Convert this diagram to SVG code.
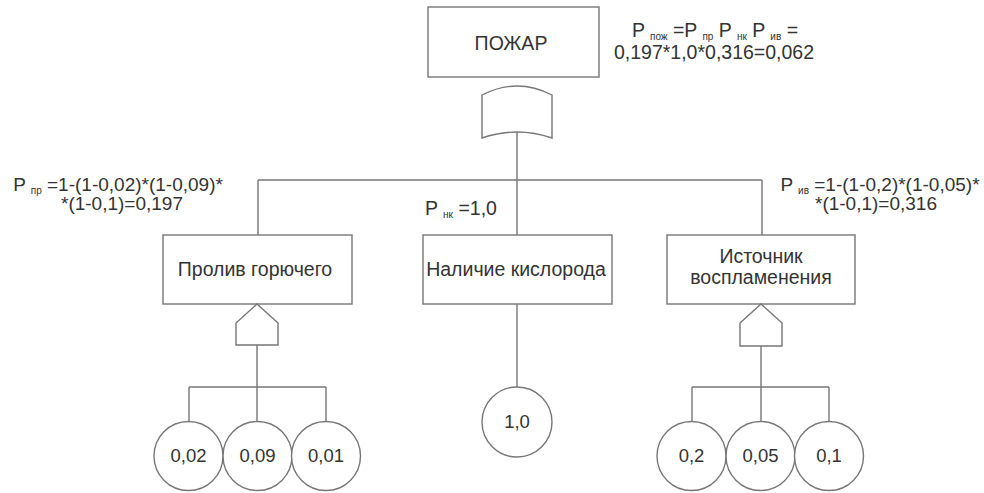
<svg xmlns="http://www.w3.org/2000/svg" width="984" height="493" viewBox="0 0 984 493">
<style>
text{font-family:"Liberation Sans",Arial,sans-serif;font-size:19.5px;fill:#333}
.m{text-anchor:middle}
.f{font-size:19px}
.s{font-size:10px}
.c{font-size:18.5px}
.sh{fill:#fff;stroke:#777;stroke-width:1.4}
.ln{fill:none;stroke:#777;stroke-width:1.4}
</style>
<rect width="984" height="493" fill="#fff"/>
<g id="connectors" class="ln">
<path d="M517,132V180M258,180H762M258,180V235M517,180V235M762,180V235"/>
<path d="M517,304V387"/>
<path d="M257,345V387M189,387H326M189,387V421M257,387V421M326,387V421"/>
<path d="M761,346V387M692,387H829M692,387V421M761,387V421M829,387V421"/>
</g>
<g id="fire">
<rect class="sh" x="428" y="7" width="171" height="70"/>
<text class="m" x="511" y="50">ПОЖАР</text>
</g>
<g id="and-gate">
<path class="sh" d="M482,95Q517,77 552,95L552,138Q517,126 482,138Z"/>
</g>
<g id="f-top">
<text class="m" x="715" y="37">P <tspan class="s" dy="3">пож</tspan><tspan dy="-3"> =P </tspan><tspan class="s" dy="3">пр</tspan><tspan dy="-3"> P </tspan><tspan class="s" dy="3">нк</tspan><tspan dy="-3"> P </tspan><tspan class="s" dy="3">ив</tspan><tspan dy="-3"> =</tspan></text>
<text class="m" x="714" y="59">0,197*1,0*0,316=0,062</text>
</g>
<g id="f-left">
<text class="m f" x="118" y="191">P <tspan class="s" dy="3">пр</tspan><tspan dy="-3"> =1-(1-0,02)*(1-0,09)*</tspan></text>
<text class="m f" x="122" y="210">*(1-0,1)=0,197</text>
</g>
<g id="f-mid">
<text x="425" y="215">P <tspan class="s" dy="3">нк</tspan><tspan dy="-3"> =1,0</tspan></text>
</g>
<g id="f-right">
<text class="m f" x="880" y="191">P <tspan class="s" dy="3">ив</tspan><tspan dy="-3"> =1-(1-0,2)*(1-0,05)*</tspan></text>
<text class="m f" x="876" y="210">*(1-0,1)=0,316</text>
</g>
<g id="spill">
<rect class="sh" x="163" y="235" width="189" height="69"/>
<text class="m" x="255" y="276">Пролив горючего</text>
</g>
<g id="oxygen">
<rect class="sh" x="423" y="235" width="189" height="69"/>
<text class="m" x="516" y="276">Наличие кислорода</text>
</g>
<g id="ignition">
<rect class="sh" x="667" y="235" width="188" height="69"/>
<text class="m" x="761" y="263">Источник</text>
<text class="m" x="761" y="284">воспламенения</text>
</g>
<g id="or-left">
<path class="sh" d="M257,304L278,323L278,345L236,345L236,323Z"/>
</g>
<g id="or-right">
<path class="sh" d="M761,304L782,323L782,346L740,346L740,323Z"/>
</g>
<g id="e1"><circle class="sh" cx="188.5" cy="456" r="34.5"/><text class="m c" x="188.5" y="462">0,02</text></g>
<g id="e2"><circle class="sh" cx="257.5" cy="456" r="34.5"/><text class="m c" x="257.5" y="462">0,09</text></g>
<g id="e3"><circle class="sh" cx="326" cy="456" r="34.5"/><text class="m c" x="326" y="462">0,01</text></g>
<g id="e4"><circle class="sh" cx="517" cy="422" r="35"/><text class="m c" x="517" y="428">1,0</text></g>
<g id="e5"><circle class="sh" cx="691.5" cy="456" r="34.5"/><text class="m c" x="691.5" y="462">0,2</text></g>
<g id="e6"><circle class="sh" cx="760.5" cy="456" r="34.5"/><text class="m c" x="760.5" y="462">0,05</text></g>
<g id="e7"><circle class="sh" cx="829" cy="456" r="34.5"/><text class="m c" x="829" y="462">0,1</text></g>
</svg>
